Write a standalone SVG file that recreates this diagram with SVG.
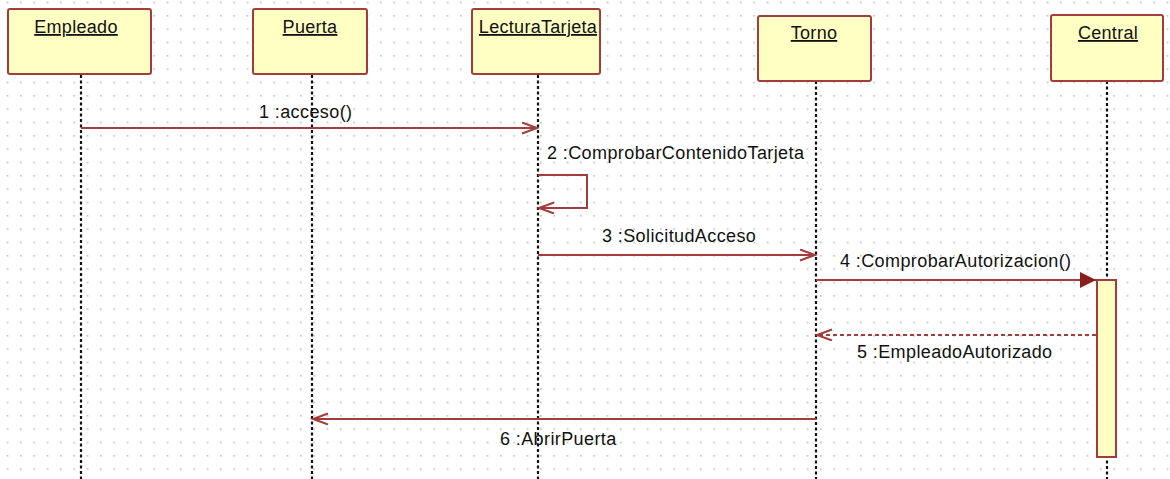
<svg xmlns="http://www.w3.org/2000/svg" width="1170" height="479" viewBox="0 0 1170 479">
  <style>
    .obj { fill: #ffffc4; stroke: #a33c3c; stroke-width: 2; }
    .title { font-family: "Liberation Sans", Arial, sans-serif; font-size: 18px; letter-spacing: 0.3px; fill: #111; text-decoration: underline; text-anchor: middle; }
    .life { stroke: #111; stroke-width: 2.2; stroke-dasharray: 3 2.5; fill: none; }
    .msg { stroke: #a33c3c; stroke-width: 2; fill: none; }
    .ret { stroke: #a33c3c; stroke-width: 2; fill: none; stroke-dasharray: 4 3; }
    .lbl { font-family: "Liberation Sans", Arial, sans-serif; font-size: 18px; letter-spacing: 0.4px; fill: #111; }
    .act { fill: #ffffc4; stroke: #a33c3c; stroke-width: 2; }
  </style>
  <defs>
    <pattern id="grid" x="6.67" y="1.67" width="13.333" height="13.333" patternUnits="userSpaceOnUse">
      <rect x="0" y="0" width="1.6" height="1.6" fill="#bdbdbd"/>
    </pattern>
    <marker id="open" markerUnits="userSpaceOnUse" markerWidth="20" markerHeight="14" refX="16" refY="6" orient="auto">
      <path d="M1,0.5 L16,6 L1,11.5" fill="none" stroke="#a33c3c" stroke-width="2"/>
    </marker>
    <marker id="filled" markerUnits="userSpaceOnUse" markerWidth="20" markerHeight="18" refX="16" refY="8" orient="auto">
      <path d="M0,0 L16,8 L0,16 Z" fill="#8a1c1c"/>
    </marker>
  </defs>

  <!-- background grid -->
  <rect width="1170" height="479" fill="#ffffff"/>
  <rect width="1170" height="479" fill="url(#grid)"/>

  <!-- lifelines -->
  <g id="lifelines">
    <line class="life" x1="81" y1="75" x2="81" y2="479"/>
    <line class="life" x1="312" y1="75" x2="312" y2="479"/>
    <line class="life" x1="538" y1="75" x2="538" y2="479"/>
    <line class="life" x1="816" y1="81" x2="816" y2="479"/>
    <line class="life" x1="1107" y1="81" x2="1107" y2="479"/>
  </g>

  <!-- objects -->
  <g id="empleado">
    <rect class="obj" x="8" y="9" width="143" height="65" rx="2"/>
    <text class="title" x="76" y="33">Empleado</text>
  </g>
  <g id="puerta">
    <rect class="obj" x="253" y="9" width="114" height="65" rx="2"/>
    <text class="title" x="310" y="33">Puerta</text>
  </g>
  <g id="lecturatarjeta">
    <rect class="obj" x="472" y="9" width="128" height="65" rx="2"/>
    <text class="title" x="538" y="33">LecturaTarjeta</text>
  </g>
  <g id="torno">
    <rect class="obj" x="758" y="16" width="113" height="65" rx="2"/>
    <text class="title" x="814" y="39">Torno</text>
  </g>
  <g id="central">
    <rect class="obj" x="1051" y="15" width="112" height="66" rx="2"/>
    <text class="title" x="1108" y="39">Central</text>
  </g>

  <!-- activation bar on Central -->
  <g id="central-activation">
    <rect class="act" x="1097" y="280" width="19" height="177"/>
  </g>

  <!-- messages -->
  <g id="connectors">
    <line class="msg" x1="81" y1="128" x2="537" y2="128" marker-end="url(#open)"/>
    <polyline class="msg" points="538,175 587,175 587,208 539,208" marker-end="url(#open)"/>
    <line class="msg" x1="538" y1="255" x2="815" y2="255" marker-end="url(#open)"/>
    <line class="msg" x1="816" y1="280" x2="1096" y2="280" marker-end="url(#filled)"/>
    <line class="ret" x1="1096" y1="335" x2="817" y2="335" marker-end="url(#open)"/>
    <line class="msg" x1="816" y1="419" x2="313" y2="419" marker-end="url(#open)"/>
  </g>

  <!-- message labels -->
  <g id="labels">
    <text class="lbl" x="259" y="118">1 :acceso()</text>
    <text class="lbl" x="547" y="159">2 :ComprobarContenidoTarjeta</text>
    <text class="lbl" x="602" y="242">3 :SolicitudAcceso</text>
    <text class="lbl" x="840" y="267">4 :ComprobarAutorizacion()</text>
    <text class="lbl" x="857" y="358">5 :EmpleadoAutorizado</text>
    <text class="lbl" x="500" y="445">6 :AbrirPuerta</text>
  </g>
</svg>
